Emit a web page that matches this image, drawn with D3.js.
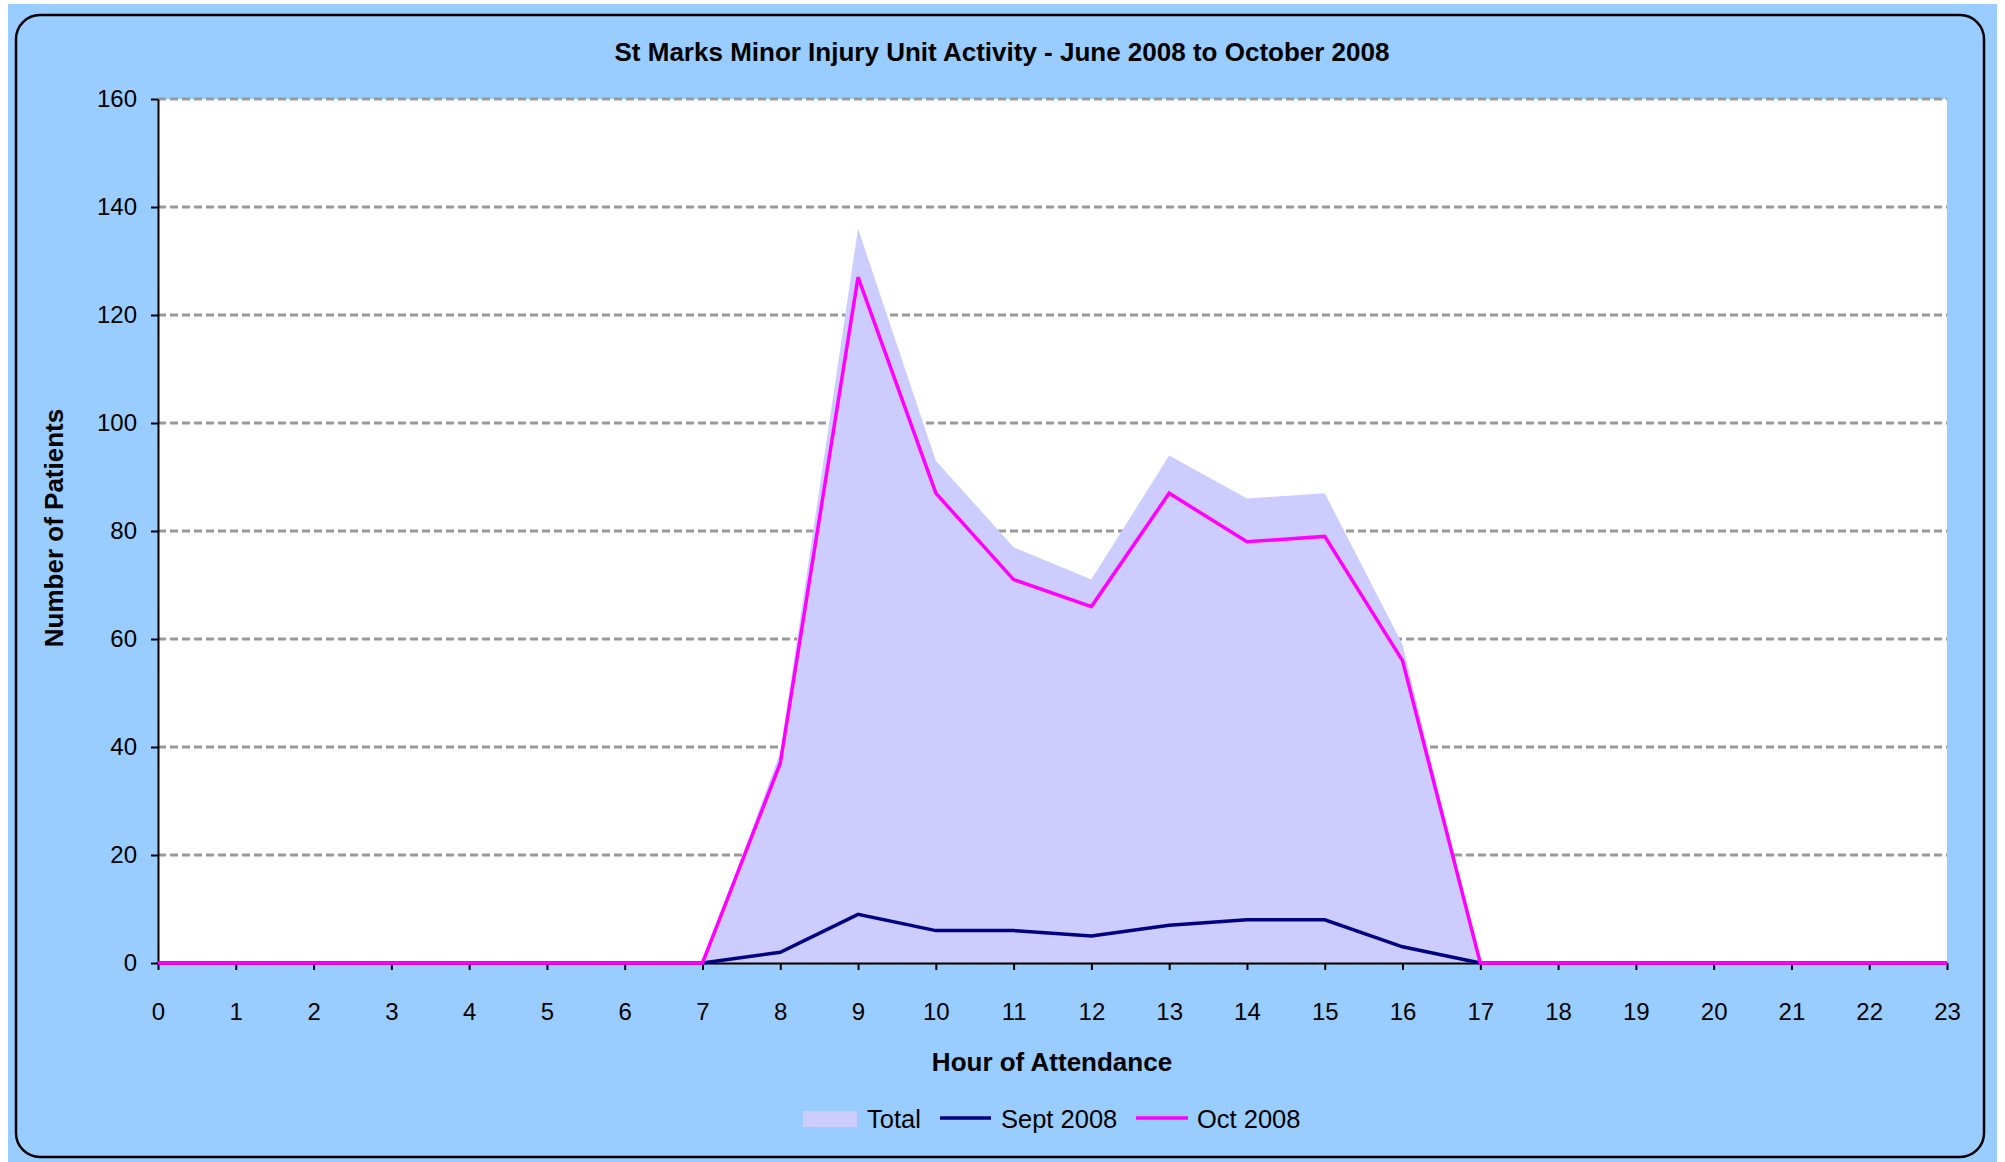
<!DOCTYPE html>
<html>
<head>
<meta charset="utf-8">
<script src="https://cdn.jsdelivr.net/npm/d3@7"></script>
<style>
  body { margin: 0; background: #fff; }
  text { font-family: "Liberation Sans", Arial, sans-serif; }
</style>
</head>
<body>
<svg id="chart" width="2005" height="1162"></svg>
<script>
// hours of the day on the x axis
var hours = d3.range(0, 24);
// values
var totalValues = [0, 0, 0, 0, 0, 0, 0, 0, 39, 136, 93, 77, 71, 94, 86, 87, 59, 0, 0, 0, 0, 0, 0, 0];
var septValues  = [0, 0, 0, 0, 0, 0, 0, 0, 2, 9, 6, 6, 5, 7, 8, 8, 3, 0, 0, 0, 0, 0, 0, 0];
var octValues   = [0, 0, 0, 0, 0, 0, 0, 0, 37, 127, 87, 71, 66, 87, 78, 79, 56, 0, 0, 0, 0, 0, 0, 0];
var yTicks = [0, 20, 40, 60, 80, 100, 120, 140, 160];
var seriesNames = ["Total", "Sept 2008", "Oct 2008"];

var svg = d3.select("#chart");

// outer chart area
svg.append("rect")
    .attr("x", 8).attr("y", 4)
    .attr("width", 1989).attr("height", 1158)
    .attr("fill", "#99CCFF");
svg.append("rect")
    .attr("x", 16).attr("y", 15)
    .attr("width", 1968).attr("height", 1142)
    .attr("rx", 24).attr("ry", 24)
    .attr("fill", "none")
    .attr("stroke", "#000")
    .attr("stroke-width", 2.5);

var x = d3.scaleLinear().domain([0, 23]).range([158, 1947]);
var y = d3.scaleLinear().domain([0, 160]).range([963, 99]);

// plot area
svg.append("rect")
    .attr("x", x(0)).attr("y", y(160))
    .attr("width", x(23) - x(0)).attr("height", y(0) - y(160))
    .attr("fill", "#fff");

// gridlines
svg.append("g").selectAll("line")
    .data(yTicks)
    .enter().append("line")
    .attr("x1", x(0)).attr("x2", x(23))
    .attr("y1", function (d) { return y(d); })
    .attr("y2", function (d) { return y(d); })
    .attr("stroke", "#999")
    .attr("stroke-width", 3)
    .attr("stroke-dasharray", "8,4");

// total area
var area = d3.area()
    .x(function (d, i) { return x(hours[i]); })
    .y0(y(0))
    .y1(function (d) { return y(d); });
svg.append("path")
    .datum(totalValues)
    .attr("d", area)
    .attr("fill", "#CCCCFF");

// axes
var yAxis = d3.axisLeft(y).tickValues(yTicks).tickSize(7).tickSizeOuter(0).tickPadding(14);
var gy = svg.append("g").attr("transform", "translate(" + x(0) + ",0)").call(yAxis);
var xAxis = d3.axisBottom(x).tickValues(hours).tickFormat(d3.format("d")).tickSize(7).tickSizeOuter(0).tickPadding(33);
var gx = svg.append("g").attr("transform", "translate(0," + y(0) + ")").call(xAxis);
[gy, gx].forEach(function (g) {
    g.select(".domain").attr("stroke", "#000").attr("stroke-width", 2);
    g.selectAll(".tick line").attr("stroke", "#000").attr("stroke-width", 2);
    g.selectAll(".tick text")
        .attr("fill", "#000")
        .style("font-size", "24px")
        .style("font-family", "'Liberation Sans', Arial, sans-serif");
});

// lines
var line = d3.line()
    .x(function (d, i) { return x(hours[i]); })
    .y(function (d) { return y(d); });
svg.append("path").datum(septValues).attr("d", line)
    .attr("fill", "none").attr("stroke", "#000080").attr("stroke-width", 3.5)
    .attr("stroke-linejoin", "miter");
svg.append("path").datum(octValues).attr("d", line)
    .attr("fill", "none").attr("stroke", "#FF00FF").attr("stroke-width", 3.5)
    .attr("stroke-linejoin", "miter");

// titles
svg.append("text")
    .attr("x", 1002).attr("y", 61)
    .attr("text-anchor", "middle")
    .style("font-size", "26px").style("font-weight", "bold")
    .text("St Marks Minor Injury Unit Activity - June 2008 to October 2008");
svg.append("text")
    .attr("x", 1052).attr("y", 1071)
    .attr("text-anchor", "middle")
    .style("font-size", "26px").style("font-weight", "bold")
    .text("Hour of Attendance");
svg.append("text")
    .attr("transform", "translate(63,528) rotate(-90)")
    .attr("text-anchor", "middle")
    .style("font-size", "26px").style("font-weight", "bold")
    .text("Number of Patients");

// legend
var legend = svg.append("g");
legend.append("rect")
    .attr("x", 803).attr("y", 1111).attr("width", 54).attr("height", 16)
    .attr("fill", "#CCCCFF");
legend.append("text").attr("x", 867).attr("y", 1128)
    .style("font-size", "25.5px").text(seriesNames[0]);
legend.append("line")
    .attr("x1", 940).attr("x2", 991).attr("y1", 1118).attr("y2", 1118)
    .attr("stroke", "#000080").attr("stroke-width", 3.5);
legend.append("text").attr("x", 1001).attr("y", 1128)
    .style("font-size", "25.5px").text(seriesNames[1]);
legend.append("line")
    .attr("x1", 1136).attr("x2", 1188).attr("y1", 1118).attr("y2", 1118)
    .attr("stroke", "#FF00FF").attr("stroke-width", 3.5);
legend.append("text").attr("x", 1197).attr("y", 1128)
    .style("font-size", "25.5px").text(seriesNames[2]);
</script>
</body>
</html>
